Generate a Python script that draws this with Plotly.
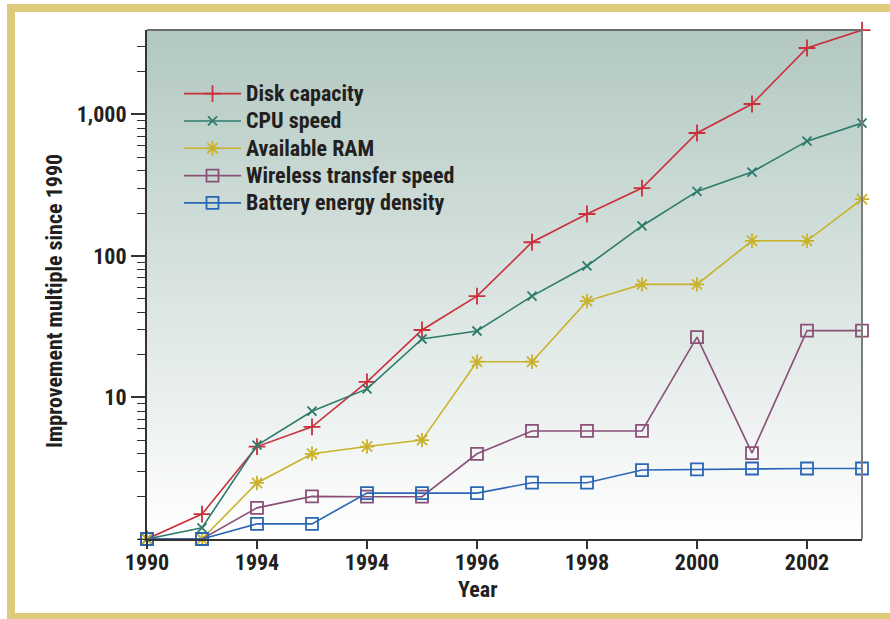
import plotly.graph_objects as go

# x positions are evenly spaced; only every second one is labelled
x_index = list(range(14))
tick_positions = [0, 2, 4, 6, 8, 10, 12]
tick_labels = ["1990", "1994", "1994", "1996", "1998", "2000", "2002"]

disk_capacity = [1, 1.5, 4.5, 6.2, 12.9, 30, 52, 125, 198, 302, 740, 1186, 2950, 3950]
cpu_speed = [1, 1.2, 4.6, 8.0, 11.5, 25.9, 29.5, 52, 85, 163, 286, 392, 648, 870]
available_ram = [1, 1, 2.49, 4.0, 4.5, 5.0, 17.9, 17.9, 48, 63, 63, 128, 128, 252]
wireless_speed = [1, 1, 1.66, 2.0, 1.99, 1.99, 4.0, 5.8, 5.8, 5.8, 26.7, 4.05, 29.7, 29.7]
battery_density = [1, 1, 1.28, 1.28, 2.11, 2.11, 2.11, 2.5, 2.5, 3.07, 3.1, 3.15, 3.15, 3.15]

FONT = "Roboto Condensed, Open Sans Condensed, DejaVu Sans Condensed, sans-serif"
TEXT = "#231f20"

series = [
    ("Disk capacity", disk_capacity, "#c8303c", "cross-thin-open", 12),
    ("CPU speed", cpu_speed, "#2e7b6b", "x-thin-open", 9),
    ("Available RAM", available_ram, "#c9b22a", "asterisk-open", 12),
    ("Wireless transfer speed", wireless_speed, "#8a5078", "square-open", 12),
    ("Battery energy density", battery_density, "#2a66b4", "square-open", 12),
]

fig = go.Figure()
for name, values, color, symbol, size in series:
    fig.add_trace(go.Scatter(
        x=x_index,
        y=values,
        # legend row spacing follows the legend font size; the span keeps the text large
        name=f'<span style="font-size:22px">{name}</span>',
        mode="lines+markers",
        line=dict(color=color, width=1.6),
        marker=dict(symbol=symbol, size=size, color=color,
                    line=dict(color=color, width=1.8)),
        cliponaxis=False,
    ))

# background gradient inside the plot area
shapes = []
steps = 120
top_rgb = (178, 200, 193)
for i in range(steps):
    t = i / (steps - 1)
    r = round(top_rgb[0] + (255 - top_rgb[0]) * t)
    g = round(top_rgb[1] + (255 - top_rgb[1]) * t)
    b = round(top_rgb[2] + (255 - top_rgb[2]) * t)
    shapes.append(dict(
        type="rect", xref="x domain", yref="y domain", layer="below",
        x0=0, x1=1, y0=max(0, 1 - (i + 1.6) / steps), y1=1 - i / steps,
        fillcolor=f"rgb({r},{g},{b})", line=dict(width=0),
    ))

# frame lines on top / right of plot
shapes.append(dict(type="line", xref="x domain", yref="y domain",
                   x0=0, x1=1, y0=1, y1=1, line=dict(color="#6d6d6d", width=2)))
shapes.append(dict(type="line", xref="x domain", yref="y domain",
                   x0=1, x1=1, y0=0, y1=1, line=dict(color="#7d7d7d", width=2)))

# gold page border (left, top, bottom)
gold = "#dccb78"
def px_x(p):
    return (p - 147) / 715
def px_y(p):
    return (539 - p) / 509
shapes.append(dict(type="rect", xref="paper", yref="paper", layer="above",
                   x0=px_x(7), x1=px_x(15), y0=px_y(619), y1=px_y(4),
                   fillcolor=gold, line=dict(width=0)))
shapes.append(dict(type="rect", xref="paper", yref="paper", layer="above",
                   x0=px_x(7), x1=px_x(890), y0=px_y(12), y1=px_y(4),
                   fillcolor=gold, line=dict(width=0)))
shapes.append(dict(type="rect", xref="paper", yref="paper", layer="above",
                   x0=px_x(7), x1=px_x(890), y0=px_y(619), y1=px_y(613),
                   fillcolor=gold, line=dict(width=0)))

fig.update_layout(
    width=890,
    height=619,
    margin=dict(l=147, r=28, t=30, b=80),
    paper_bgcolor="white",
    plot_bgcolor="rgba(0,0,0,0)",
    font=dict(family=FONT, color=TEXT, size=22),
    shapes=shapes,
    showlegend=True,
    legend=dict(
        x=px_x(179), y=px_y(75), xanchor="left", yanchor="top",
        bgcolor="rgba(0,0,0,0)",
        font=dict(family=FONT, size=18.7, color=TEXT, weight="bold"),
        itemwidth=57,
        tracegroupgap=0,
    ),
    xaxis=dict(
        range=[0, 13],
        tickmode="array",
        tickvals=tick_positions,
        ticktext=tick_labels,
        ticks="outside", ticklen=8, tickwidth=1.5, tickcolor="#333",
        ticklabelstandoff=-5,
        showline=True, linecolor="#333", linewidth=2,
        showgrid=False, zeroline=False,
        tickfont=dict(family=FONT, size=22, color=TEXT, weight="bold"),
        automargin=False,
    ),
    yaxis=dict(
        type="log",
        range=[0, 3.597],
        tickmode="array",
        tickvals=[10, 100, 1000],
        ticktext=["10", "100", "1,000"],
        ticks="outside", ticklen=14, tickwidth=1.5, tickcolor="#333",
        minor=dict(
            tickmode="array",
            tickvals=[1, 2, 3, 4, 5, 6, 7, 8, 9, 20, 30, 40, 50, 60, 70, 80, 90,
                      200, 300, 400, 500, 600, 700, 800, 900, 2000, 3000],
            ticks="outside", ticklen=8, tickwidth=1.2, tickcolor="#333",
            showgrid=False,
        ),
        showline=True, linecolor="#333", linewidth=2,
        showgrid=False, zeroline=False,
        tickfont=dict(family=FONT, size=22, color=TEXT, weight="bold"),
        automargin=False,
    ),
    annotations=[
        dict(text="Year", xref="paper", yref="paper",
             x=px_x(477), y=px_y(590), xanchor="center", yanchor="middle",
             showarrow=False,
             font=dict(family=FONT, size=22, color=TEXT, weight="bold")),
        dict(text="Improvement multiple since 1990", xref="paper", yref="paper",
             x=px_x(55), y=px_y(301), xanchor="center", yanchor="middle",
             textangle=-90, showarrow=False,
             font=dict(family=FONT, size=22, color=TEXT, weight="bold")),
    ],
)

fig.write_html("out.html", config={"displayModeBar": False},
               post_script="document.body.style.margin='0px';")
